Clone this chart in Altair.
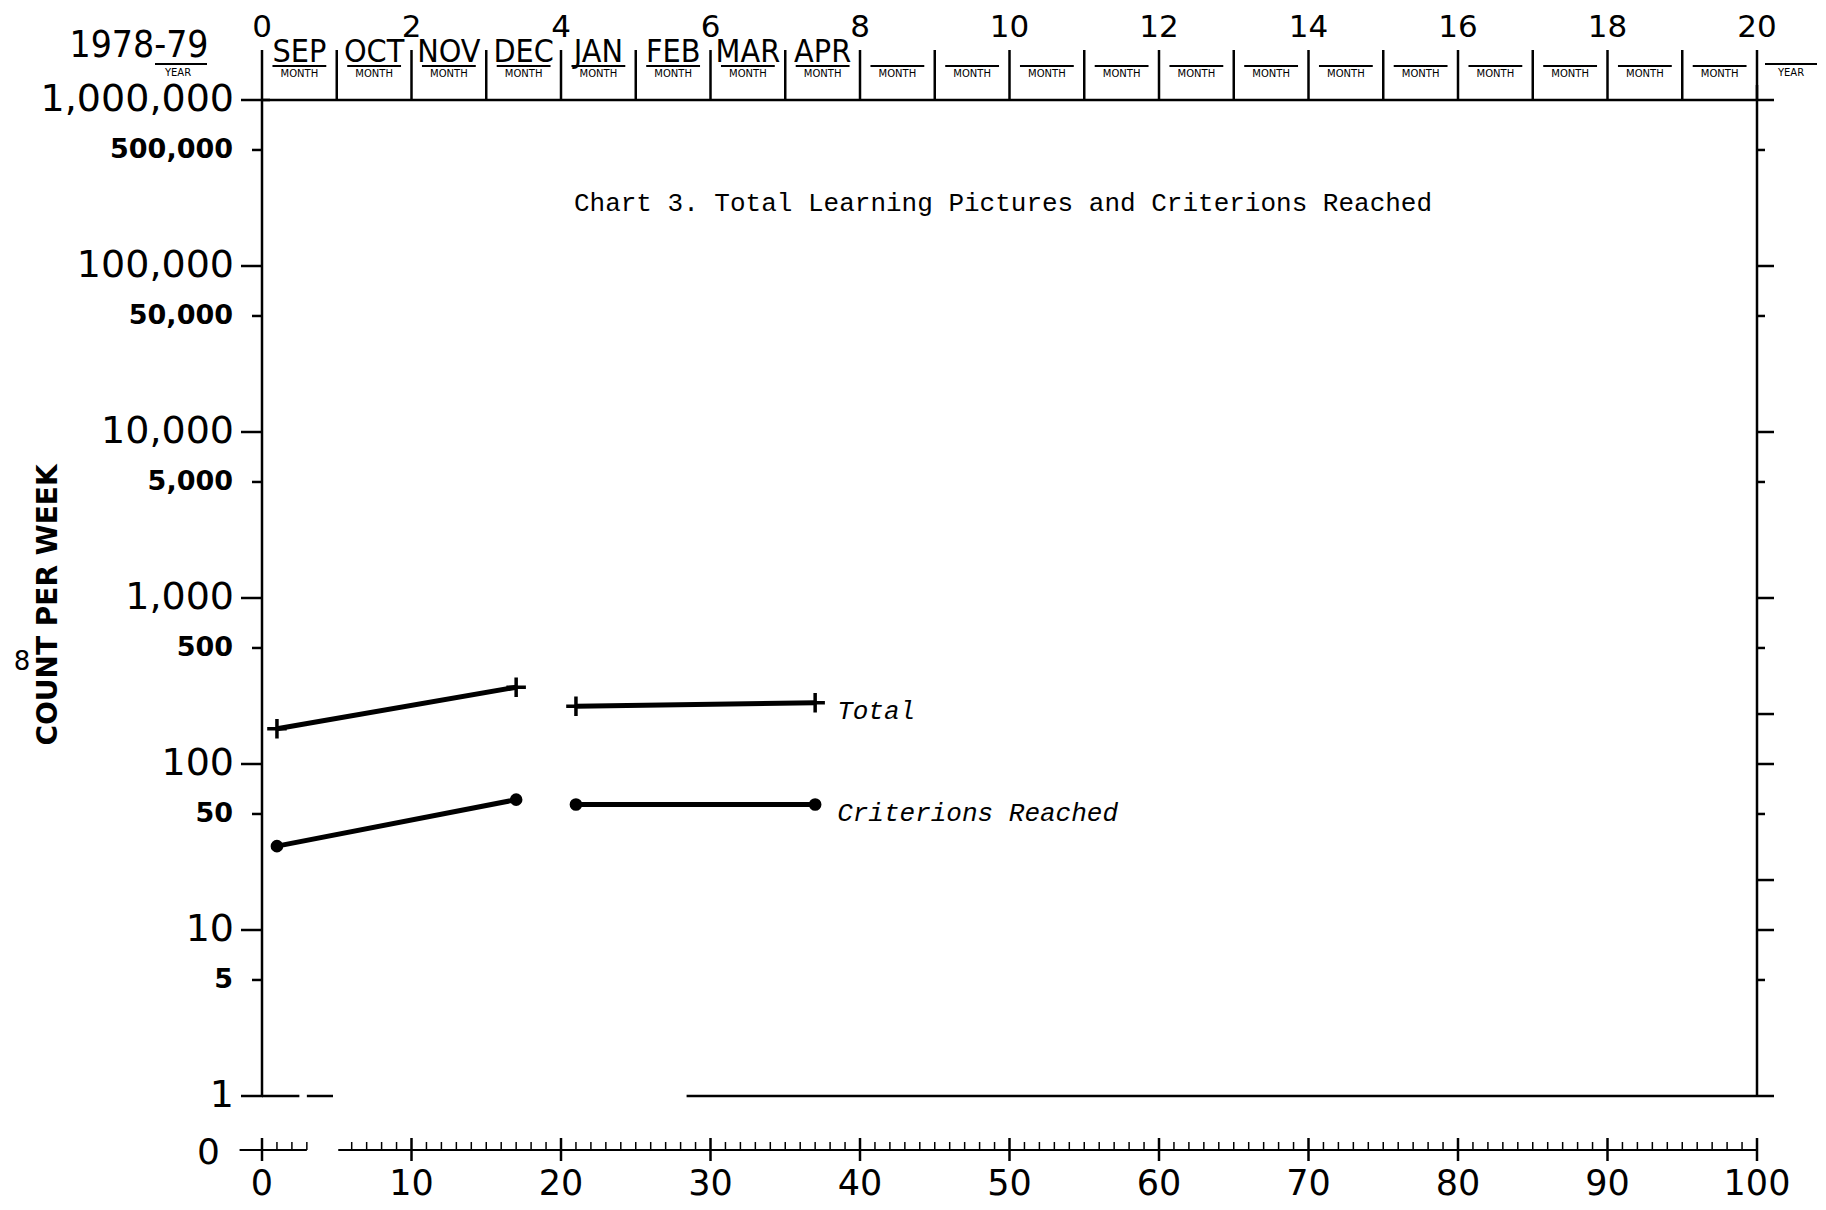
import altair as alt
import pandas as pd

# ---------------- data ----------------
days = [1, 17, 21, 37]
phases = ["before", "before", "after", "after"]
total_counts = [163, 290, 223, 234]
criterion_counts = [32, 61, 57, 57]
series_names = ["Total", "Criterions Reached"]

y_decades = [1, 10, 100, 1000, 10000, 100000, 1000000]
y_decade_labels = ["1", "10", "100", "1,000", "10,000", "100,000", "1,000,000"]
y_halves = [5, 50, 500, 5000, 50000, 500000]
y_half_labels = ["5", "50", "500", "5,000", "50,000", "500,000"]
right_extra = [20, 200]
x_labels = [0, 10, 20, 30, 40, 50, 60, 70, 80, 90, 100]
x_label_text = ["0", "10", "20", "30", "40", "50", "60", "70", "80", "90", "100"]
minor_days = [1, 2, 3] + [d for d in range(6, 100) if d % 10 != 0]
week_numbers = [0, 2, 4, 6, 8, 10, 12, 14, 16, 18, 20]
month_names = ["SEP", "OCT", "NOV", "DEC", "JAN", "FEB", "MAR", "APR"]
n_month_boxes = 20
year_text = "1978-79"
chart_title = "Chart 3. Total Learning Pictures and Criterions Reached"
y_title = "COUNT PER WEEK"
floor_segments = [(0, 2.5), (3, 4.75), (28.4, 100)]
zero_row_segments = [(-1.5, 3), (5.1, 100)]

# ---------------- layout constants ----------------
W, H = 1495, 996
COND = "DejaVu Sans Condensed, Liberation Sans Narrow, Roboto Condensed, DejaVu Sans"
SANS = "DejaVu Sans"
MONO = "Liberation Mono"

xs = alt.Scale(domain=[0, 100], nice=False, zero=False)
ys = alt.Scale(type="log", domain=[1, 1000000], nice=False)


def X(f):
    return alt.X(f, type="quantitative", scale=xs, axis=None)


def Y(f):
    return alt.Y(f, type="quantitative", scale=ys, axis=None)


df = pd.DataFrame({
    "day": days * 2,
    "value": total_counts + criterion_counts,
    "series": [series_names[0]] * len(days) + [series_names[1]] * len(days),
    "phase": phases * 2,
})

lines = alt.Chart(df).mark_line(color="black", strokeWidth=5).encode(
    x=X("day:Q"), y=Y("value:Q"), detail=["series:N", "phase:N"],
)

cross_path = "M-1,0L1,0M0,-1L0,1"
crosses = alt.Chart(df[df.series == series_names[0]]).mark_point(
    shape=cross_path, filled=False, color="black", strokeWidth=3.5, size=380, opacity=1
).encode(x=X("day"), y=Y("value"))

dots = alt.Chart(df[df.series == series_names[1]]).mark_circle(
    size=160, color="black", opacity=1
).encode(x=X("day"), y=Y("value"))

last = df[df.day == max(days)]
series_labels = alt.Chart(last).mark_text(
    align="left", baseline="middle", dx=22, dy=8, font=MONO, fontStyle="italic",
    fontSize=26, color="black"
).encode(x=X("day"), y=Y("value"), text="series:N")

# ---- left axis: line, ticks, labels ----
left_domain = alt.Chart(pd.DataFrame({"k": [0]})).mark_rule(color="black", strokeWidth=2.5).encode(
    x=alt.value(0), y=alt.value(0), y2=alt.value(H))
lt_dec = alt.Chart(pd.DataFrame({"value": y_decades})).mark_rule(color="black", strokeWidth=2.5).encode(
    y=Y("value"), x=alt.value(-21), x2=alt.value(1))
lt_half = alt.Chart(pd.DataFrame({"value": y_halves})).mark_rule(color="black", strokeWidth=2.5).encode(
    y=Y("value"), x=alt.value(-10), x2=alt.value(0))
dec_labels = alt.Chart(pd.DataFrame({"value": y_decades, "label": y_decade_labels})).mark_text(
    align="right", baseline="middle", font=SANS, fontSize=38, color="black"
).encode(y=Y("value"), x=alt.value(-28), text="label:N")
half_labels = alt.Chart(pd.DataFrame({"value": y_halves, "label": y_half_labels})).mark_text(
    align="right", baseline="middle", font=SANS, fontSize=27, fontWeight="bold", color="black"
).encode(y=Y("value"), x=alt.value(-29), text="label:N")

# ---- right axis ----
rt_long = alt.Chart(pd.DataFrame({"value": y_decades + right_extra})).mark_rule(color="black", strokeWidth=2.5).encode(
    y=Y("value"), x=alt.value(W), x2=alt.value(W + 17))
rt_short = alt.Chart(pd.DataFrame({"value": y_halves})).mark_rule(color="black", strokeWidth=2.5).encode(
    y=Y("value"), x=alt.value(W), x2=alt.value(W + 8))
right_border = alt.Chart(pd.DataFrame({"k": [0]})).mark_rule(color="black", strokeWidth=2.5).encode(
    x=alt.value(W), y=alt.value(-15), y2=alt.value(H))

top_line = alt.Chart(pd.DataFrame({"start": [0], "end": [100], "value": [1000000]})).mark_rule(
    color="black", strokeWidth=2.5).encode(x=X("start"), x2="end:Q", y=Y("value"))
top_cross = alt.Chart(pd.DataFrame({"value": [1000000]})).mark_rule(color="black", strokeWidth=2.5).encode(
    y=Y("value"), x=alt.value(0), x2=alt.value(8))

floor_df = pd.DataFrame({"start": [s for s, e in floor_segments], "end": [e for s, e in floor_segments],
                         "value": [1] * len(floor_segments)})
floor_line = alt.Chart(floor_df).mark_rule(color="black", strokeWidth=2.5).encode(
    x=X("start"), x2="end:Q", y=Y("value"))

# ---- bottom (zero row and day axis) ----
zero_df = pd.DataFrame({"start": [s for s, e in zero_row_segments], "end": [e for s, e in zero_row_segments]})
zero_line = alt.Chart(zero_df).mark_rule(color="black", strokeWidth=2).encode(
    x=X("start"), x2="end:Q", y=alt.value(1050))
minor_ticks = alt.Chart(pd.DataFrame({"day": minor_days})).mark_rule(color="black", strokeWidth=1.5).encode(
    x=X("day"), y=alt.value(1042), y2=alt.value(1050))
major_ticks = alt.Chart(pd.DataFrame({"day": x_labels})).mark_rule(color="black", strokeWidth=2.5).encode(
    x=X("day"), y=alt.value(1038), y2=alt.value(1061))
x_tick_labels = alt.Chart(pd.DataFrame({"day": x_labels, "label": x_label_text})).mark_text(
    align="center", baseline="middle", font=SANS, fontSize=35, color="black"
).encode(x=X("day"), y=alt.value(1084), text="label:N")
zero_label = alt.Chart(pd.DataFrame({"t": ["0"]})).mark_text(
    align="right", baseline="middle", font=SANS, fontSize=36, color="black"
).encode(x=alt.value(-42), y=alt.value(1053), text="t:N")

# ---- top: month boxes ----
dividers = alt.Chart(pd.DataFrame({"day": [5 * i for i in range(n_month_boxes + 1)]})).mark_rule(
    color="black", strokeWidth=2.5).encode(x=X("day"), y=alt.value(-50), y2=alt.value(0))

week_df = pd.DataFrame({"day": [w * 5 for w in week_numbers], "label": [str(w) for w in week_numbers]})
week_labels = alt.Chart(week_df).mark_text(
    baseline="alphabetic", font=SANS, fontSize=31, color="black"
).encode(x=X("day"), y=alt.value(-63), text="label:N")

month_df = pd.DataFrame({"day": [5 * i + 2.5 for i in range(len(month_names))], "label": month_names})
month_labels = alt.Chart(month_df).mark_text(
    baseline="alphabetic", font=COND, fontSize=32, color="black"
).encode(x=X("day"), y=alt.value(-38), text="label:N")

ul_df = pd.DataFrame({"start": [5 * i + 0.7 for i in range(n_month_boxes)],
                      "end": [5 * i + 4.3 for i in range(n_month_boxes)]})
underlines = alt.Chart(ul_df).mark_rule(color="black", strokeWidth=2).encode(
    x=X("start"), x2="end:Q", y=alt.value(-34))

mo_df = pd.DataFrame({"day": [5 * i + 2.5 for i in range(n_month_boxes)], "label": ["MONTH"] * n_month_boxes})
month_small = alt.Chart(mo_df).mark_text(
    baseline="middle", font=SANS, fontSize=10, color="black"
).encode(x=X("day"), y=alt.value(-26), text="label:N")

year_ul_right = alt.Chart(pd.DataFrame({"k": [0]})).mark_rule(color="black", strokeWidth=2).encode(
    x=alt.value(1503), x2=alt.value(1555), y=alt.value(-36))
year_small_right = alt.Chart(pd.DataFrame({"t": ["YEAR"]})).mark_text(
    baseline="middle", font=SANS, fontSize=10, color="black"
).encode(x=alt.value(1529), y=alt.value(-27), text="t:N")

year_label = alt.Chart(pd.DataFrame({"t": [year_text]})).mark_text(
    baseline="alphabetic", font=COND, fontSize=37, color="black"
).encode(x=alt.value(-123), y=alt.value(-43), text="t:N")
year_ul_left = alt.Chart(pd.DataFrame({"k": [0]})).mark_rule(color="black", strokeWidth=2).encode(
    x=alt.value(-107), x2=alt.value(-55), y=alt.value(-36))
year_small_left = alt.Chart(pd.DataFrame({"t": ["YEAR"]})).mark_text(
    baseline="middle", font=SANS, fontSize=10, color="black"
).encode(x=alt.value(-84), y=alt.value(-27), text="t:N")

title = alt.Chart(pd.DataFrame({"t": [chart_title]})).mark_text(
    align="center", baseline="middle", font=MONO, fontSize=26, color="black"
).encode(x=alt.value(741), y=alt.value(103), text="t:N")

ytitle = alt.Chart(pd.DataFrame({"t": [y_title]})).mark_text(
    align="center", baseline="middle", font=SANS, fontWeight="bold", fontSize=28, angle=270, color="black"
).encode(x=alt.value(-213), y=alt.value(505), text="t:N")

eight = alt.Chart(pd.DataFrame({"t": ["8"]})).mark_text(
    align="center", baseline="middle", font=SANS, fontSize=26, color="black"
).encode(x=alt.value(-240), y=alt.value(562), text="t:N")

chart = alt.layer(
    lines, crosses, dots, series_labels,
    left_domain, lt_dec, lt_half, dec_labels, half_labels,
    rt_long, rt_short, right_border, top_line, top_cross, floor_line,
    zero_line, minor_ticks, major_ticks, x_tick_labels, zero_label,
    dividers, week_labels, month_labels, underlines, month_small,
    year_ul_right, year_small_right, year_label, year_ul_left, year_small_left,
    title, ytitle, eight,
).properties(
    width=W, height=H,
    padding={"left": 254, "top": 92, "right": 60, "bottom": 106},
    autosize=alt.AutoSizeParams(type="none"),
    background="white",
).configure_view(strokeWidth=0)

chart.save("out.html", embed_options={"renderer": "svg", "actions": False})
